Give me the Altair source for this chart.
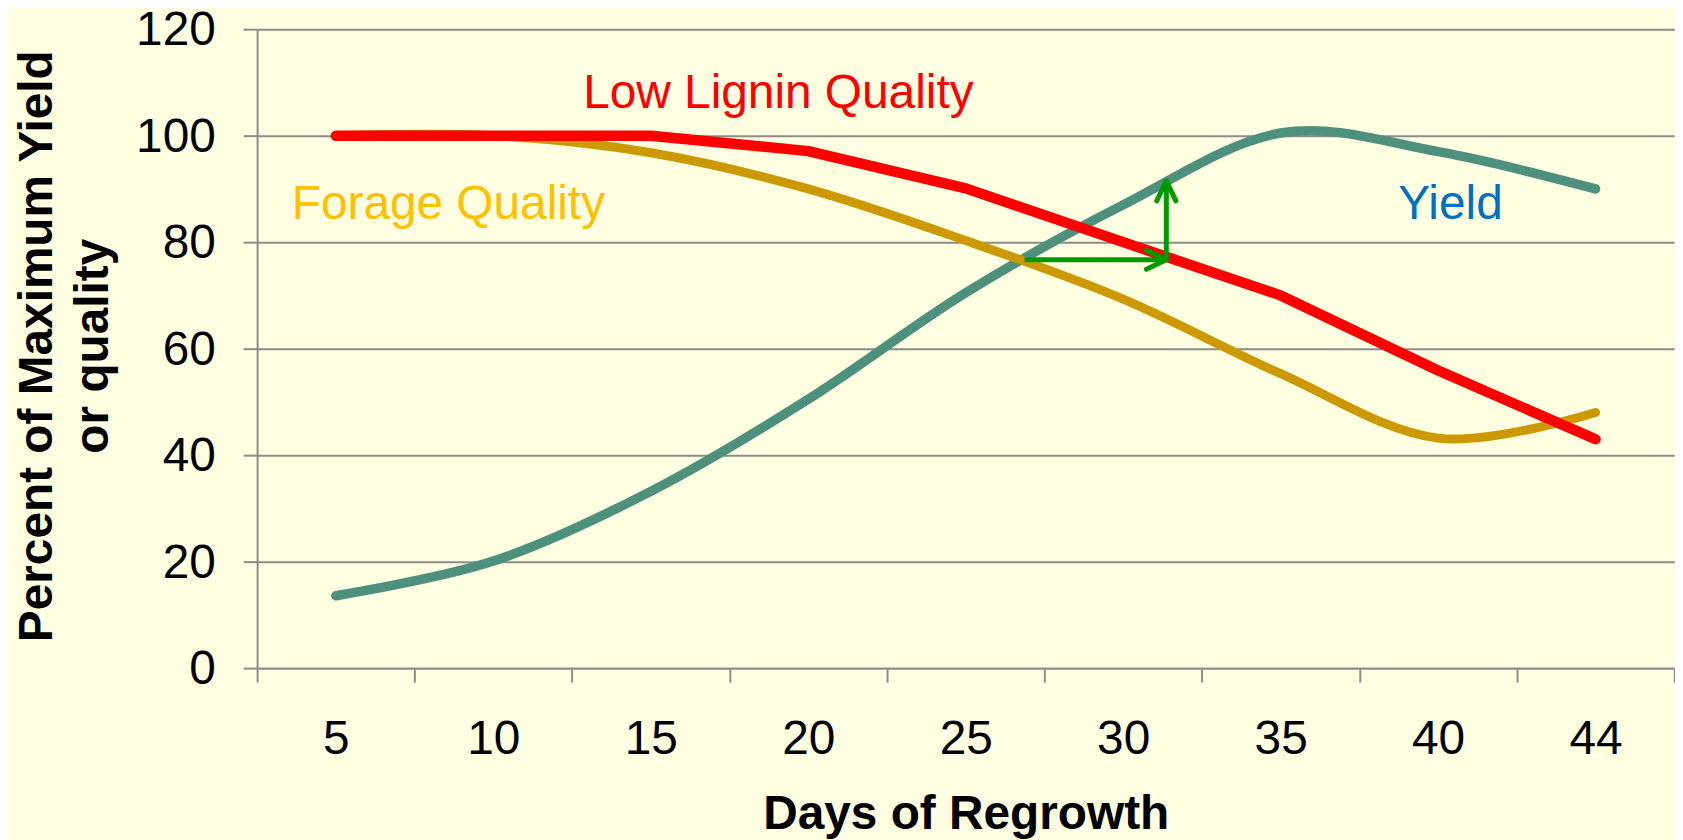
import json
import altair as alt
import pandas as pd

# ---------------- data ----------------
days = ["5", "10", "15", "20", "25", "30", "35", "40", "44"]
yield_pct = [13.6, 20.1, 33.2, 50.5, 70.5, 87.0, 100.5, 97.0, 90.0]
forage_quality = [100.0, 100.0, 96.8, 90.0, 80.3, 69.3, 55.3, 43.2, 48.0]
low_lignin_quality = [100.0, 100.0, 100.0, 97.1, 90.1, 80.0, 70.0, 55.9, 43.0]
y_ticks = [0, 20, 40, 60, 80, 100, 120]

FONT = "Liberation Sans, Arial, sans-serif"
GRID = "#8c8c8c"

def frame(values):
    return pd.DataFrame({"idx": list(range(len(days))), "day": days, "value": values})

x_ticks = [i - 0.5 for i in range(len(days) + 1)]
label_expr = (
    "datum.value < %d ? %s[round(datum.value + 0.5)] : ''"
    % (len(days) - 1, json.dumps(days))
)

W, H = 1424, 642
band = W / len(days)

x_enc = alt.X(
    "idx:Q",
    scale=alt.Scale(domain=[-0.5, len(days) - 0.5], nice=False, zero=False),
    axis=alt.Axis(
        values=x_ticks,
        labelExpr=label_expr,
        labelOffset=band / 2,
        labelFlush=False,
        labelOverlap=False,
        labelBound=False,
        labelFont=FONT,
        labelFontSize=48,
        labelColor="black",
        labelPadding=34,
        tickSize=14,
        tickColor=GRID,
        tickWidth=2,
        domainColor=GRID,
        domainWidth=2,
        grid=False,
        title="Days of Regrowth",
        titleFont=FONT,
        titleFontSize=48,
        titleFontWeight="bold",
        titleColor="black",
        titleBaseline="alphabetic",
        titleY=161,
    ),
)

y_enc = alt.Y(
    "value:Q",
    scale=alt.Scale(domain=[0, 120], nice=False, zero=True),
    axis=alt.Axis(
        values=y_ticks,
        grid=True,
        gridColor=GRID,
        gridWidth=2,
        tickSize=14,
        tickColor=GRID,
        tickWidth=2,
        domainColor=GRID,
        domainWidth=2,
        labelFont=FONT,
        labelFontSize=48,
        labelColor="black",
        labelPadding=28,
        labelOffset=1.5,
        labelFlush=False,
        labelBound=False,
        title=["Percent of Maximum Yield", "or quality"],
        titleFont=FONT,
        titleFontSize=48,
        titleFontWeight="bold",
        titleColor="black",
        titleAngle=270,
        titleAlign="center",
        titleBaseline="top",
        titleLineHeight=57,
        titleX=-245,
        titleY=318,
    ),
)

yield_line = alt.Chart(frame(yield_pct)).mark_line(
    color="#4e907e", strokeWidth=9.5, interpolate="cardinal", tension=0, strokeCap="round"
).encode(x=x_enc, y=y_enc)

forage_line = alt.Chart(frame(forage_quality)).mark_line(
    color="#cc9900", strokeWidth=9, interpolate="cardinal", tension=0, strokeCap="round"
).encode(x="idx:Q", y="value:Q")

lignin_line = alt.Chart(frame(low_lignin_quality)).mark_line(
    color="#ff0000", strokeWidth=10.5, interpolate="linear", strokeCap="round", strokeJoin="round"
).encode(x="idx:Q", y="value:Q")

one = alt.InlineData(values=[{"k": 0}])
ARROW = "#009900"

h_shaft = alt.Chart(one).mark_rule(color=ARROW, strokeWidth=5).encode(
    x=alt.datum(4.374), x2=alt.datum(5.274), y=alt.datum(76.7)
)
v_shaft = alt.Chart(one).mark_rule(color=ARROW, strokeWidth=5).encode(
    x=alt.datum(5.274), y=alt.datum(76.7), y2=alt.datum(91.5)
)
h_head = alt.Chart(one).mark_point(
    shape="M-1,-0.48L0,0L-1,0.48", size=1600, filled=False, stroke=ARROW,
    strokeWidth=5, strokeCap="round", strokeJoin="round", opacity=1
).encode(x=alt.datum(5.274), y=alt.datum(76.7))
v_head = alt.Chart(one).mark_point(
    shape="M-0.48,1L0,0L0.48,1", size=1600, filled=False, stroke=ARROW,
    strokeWidth=5, strokeCap="round", strokeJoin="round", opacity=1
).encode(x=alt.datum(5.274), y=alt.datum(91.5))

def label(text, color, xv, yv):
    return alt.Chart(one).mark_text(
        text=text, color=color, font=FONT, fontSize=48, align="left", baseline="alphabetic"
    ).encode(x=alt.datum(xv), y=alt.datum(yv))

labels = [
    label("Low Lignin Quality", "#ff0000", 1.571, 105.2),
    label("Forage Quality", "#ffc000", -0.280, 84.3),
    label("Yield", "#0070c0", 6.747, 84.3),
]

chart = alt.layer(
    yield_line, forage_line, lignin_line, h_shaft, v_shaft, h_head, v_head, *labels
).properties(
    width=W,
    height=H,
    autosize=alt.AutoSizeParams(type="none"),
    padding={"left": 250.3, "top": 19.3, "right": 0.7, "bottom": 170.7},
    background="#ffffe1",
).configure_view(strokeWidth=0)

chart.save("out.html", embed_options={"renderer": "svg", "actions": False})
